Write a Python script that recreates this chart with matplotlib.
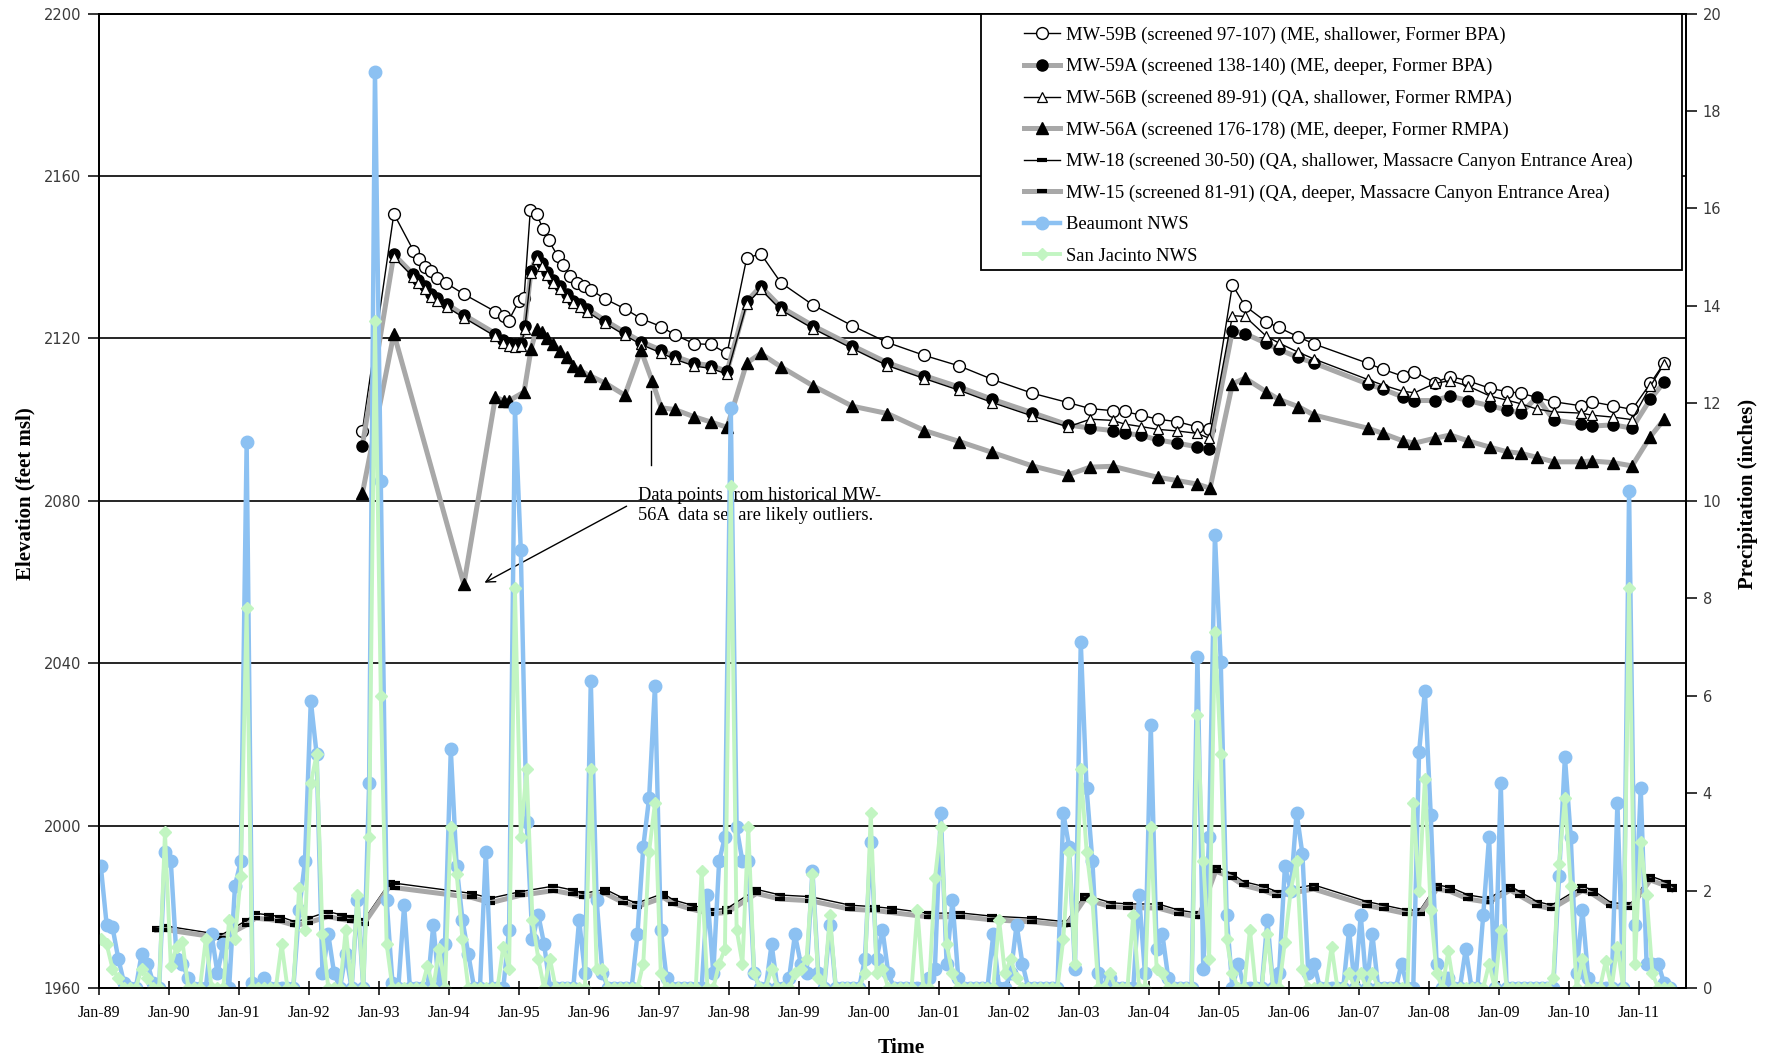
import numpy as np
import matplotlib
matplotlib.use("Agg")
import matplotlib.pyplot as plt
from matplotlib.patches import Rectangle

# date axis starts ~22 Jan 1989, yearly ticks fall on that day
AXIS_START = 1989.0575
AXIS_END = 2011.73
year_labels = ["Jan-%02d" % (y % 100) for y in range(1989, 2012)]

# monthly precipitation (inches), first value is Feb-89
beaumont = [
    2.5, 1.3, 1.25, 0.6, 0.1, 0, 0, 0.7, 0.5, 0.1, 0, 2.8,
    2.6, 0.6, 0.5, 0.2, 0, 0, 0, 1.1, 0.3, 0.9, 0, 2.1,
    2.6, 11.2, 0.1, 0, 0.2, 0, 0, 0, 0, 0, 1.6, 2.6,
    5.9, 4.8, 0.3, 1.1, 0.3, 0, 0.7, 0, 1.8, 0, 4.2, 18.8,
    10.4, 1.8, 0.1, 0, 1.7, 0, 0, 0, 0, 1.3, 0, 0.9,
    4.9, 2.5, 1.4, 0.7, 0, 0, 2.8, 0, 0, 0, 1.2, 11.9,
    9.0, 3.4, 1.0, 1.5, 0.9, 0, 0, 0, 0, 0, 1.4, 0.3,
    6.3, 1.8, 0.3, 0, 0, 0, 0, 0, 1.1, 2.9, 3.9, 6.2,
    1.2, 0.2, 0, 0, 0, 0, 0, 0, 1.9, 0.3, 2.6, 3.1,
    11.9, 3.3, 2.6, 2.6, 0.3, 0, 0, 0.9, 0, 0, 0.2, 1.1,
    0.5, 0.3, 2.4, 0.3, 0, 1.3, 0, 0, 0, 0, 0, 0.6,
    3.0, 0.6, 1.2, 0.3, 0, 0, 0, 0, 0, 0, 0.2, 0.4,
    3.6, 0.5, 1.8, 0.2, 0, 0, 0, 0, 0, 1.1, 0, 0,
    0.3, 1.3, 0.5, 0, 0, 0, 0, 0, 0, 3.6, 2.9, 0.4,
    7.1, 4.1, 2.6, 0.3, 0, 0.2, 0, 0, 0, 0, 1.9, 0.3,
    5.4, 0.8, 1.1, 0.2, 0, 0, 0, 0, 6.8, 0.4, 3.1, 9.3,
    6.7, 1.5, 0, 0.5, 0, 0, 0, 0, 1.4, 0, 0.3, 2.5,
    2.0, 3.6, 2.75, 0.3, 0.5, 0, 0, 0, 0, 0, 1.2, 0,
    1.5, 0, 1.1, 0, 0, 0, 0, 0.5, 0, 0, 4.85, 6.1,
    3.55, 0.5, 0, 0.2, 0, 0, 0.8, 0, 0, 1.5, 3.1, 0,
    4.2, 0, 0, 0, 0, 0, 0, 0, 0, 0, 2.3, 4.75,
    3.1, 0.3, 1.6, 0.2, 0, 0, 0, 0, 3.8, 0, 10.2, 1.3,
    4.1, 0.5, 0.5, 0.5, 0.1, 0,
]
san_jacinto = [
    1.0, 0.9, 0.4, 0.2, 0, 0, 0, 0.4, 0.2, 0, 0, 3.2,
    0.45, 0.85, 0.95, 0, 0, 0, 1.0, 0, 0, 0, 1.4, 1.0,
    2.3, 7.8, 0, 0, 0, 0, 0, 0.9, 0, 0, 2.05, 1.2,
    4.2, 4.8, 1.1, 0, 0, 0, 1.2, 0, 1.9, 0, 3.1, 13.7,
    6.0, 0.9, 0, 0, 0, 0, 0, 0, 0.45, 0, 0.8, 0,
    3.3, 2.35, 1.0, 0, 0, 0, 0, 0, 0, 0.85, 0.4, 8.2,
    3.1, 4.5, 1.4, 0.6, 0, 0.6, 0, 0, 0, 0, 0, 0,
    4.5, 0.4, 0.4, 0, 0, 0, 0, 0, 0, 0.5, 2.8, 3.8,
    0.3, 0, 0, 0, 0, 0, 0, 2.4, 0, 0, 0.5, 0.8,
    10.3, 1.2, 0.5, 3.3, 0.3, 0, 0, 0.4, 0, 0, 0, 0.3,
    0.4, 0.6, 2.35, 0.2, 0, 1.5, 0, 0, 0, 0, 0, 0.3,
    3.6, 0.3, 0.4, 0, 0, 0, 0, 0, 1.6, 0, 0, 2.25,
    3.3, 0.9, 0.3, 0, 0, 0, 0, 0, 0, 0, 1.4, 0.3,
    0.6, 0.2, 0, 0, 0, 0, 0, 0, 0, 1.0, 2.8, 0.5,
    4.5, 2.8, 1.8, 0, 0, 0.3, 0, 0, 0, 1.5, 0, 0,
    3.3, 0.4, 0.3, 0, 0, 0, 0, 0, 5.6, 2.6, 0.6, 7.3,
    4.8, 1.0, 0.3, 0, 0, 1.2, 0, 0, 1.1, 0, 0, 0.95,
    2.0, 2.6, 0.4, 0, 0, 0, 0, 0.85, 0, 0, 0.3, 0,
    0.3, 0, 0.3, 0, 0, 0, 0, 0, 0, 3.8, 2.0, 4.3,
    1.6, 0.3, 0, 0.75, 0, 0, 0, 0, 0, 0, 0.5, 0,
    1.2, 0, 0, 0, 0, 0, 0, 0, 0, 0.2, 2.55, 3.9,
    2.1, 0, 0.6, 0, 0, 0, 0.55, 0, 0.85, 0, 8.2, 0.5,
    3.0, 1.9, 0.3, 0, 0, 0,
]

# groundwater elevations (feet msl) by decimal year
mw59b_t = [1992.82, 1993.27, 1993.55, 1993.63, 1993.71, 1993.80, 1993.89, 1994.01,
           1994.27, 1994.72, 1994.84, 1994.91, 1995.06, 1995.13, 1995.22, 1995.31,
           1995.40, 1995.48, 1995.61, 1995.69, 1995.79, 1995.88, 1995.98, 1996.09,
           1996.29, 1996.57, 1996.80, 1997.09, 1997.28, 1997.56, 1997.80, 1998.03,
           1998.31, 1998.51, 1998.80, 1999.26, 1999.82, 2000.32, 2000.85, 2001.35,
           2001.82, 2002.39, 2002.90, 2003.22, 2003.54, 2003.71, 2003.94, 2004.18,
           2004.46, 2004.75, 2004.92, 2005.25, 2005.43, 2005.73, 2005.91, 2006.19,
           2006.42, 2007.18, 2007.40, 2007.68, 2007.85, 2008.14, 2008.36, 2008.61,
           2008.93, 2009.17, 2009.37, 2009.84, 2010.23, 2010.38, 2010.69, 2010.96,
           2011.22, 2011.42]
mw59b = [2097.2, 2150.7, 2141.6, 2139.6, 2137.6, 2136.5, 2135.0, 2133.7,
         2130.9, 2126.6, 2125.6, 2124.4, 2129.3, 2130.0, 2151.7, 2150.6,
         2147.0, 2144.2, 2140.3, 2138.1, 2135.4, 2133.7, 2132.8, 2131.9,
         2129.7, 2127.3, 2124.9, 2122.9, 2120.9, 2118.7, 2118.5, 2116.3,
         2139.7, 2140.9, 2133.7, 2128.2, 2123.1, 2119.0, 2115.8, 2113.2,
         2109.9, 2106.5, 2104.2, 2102.7, 2102.2, 2102.0, 2101.1, 2100.1,
         2099.5, 2098.2, 2097.6, 2133.2, 2128.0, 2124.1, 2122.7, 2120.4,
         2118.6, 2113.9, 2112.4, 2110.7, 2111.8, 2109.1, 2110.6, 2109.6,
         2107.7, 2106.9, 2106.5, 2104.4, 2103.4, 2104.4, 2103.4, 2102.5,
         2108.9, 2114.0]

mw59a_t = [1992.82, 1993.27, 1993.54, 1993.62, 1993.71, 1993.80, 1993.89, 1994.03,
           1994.27, 1994.72, 1994.83, 1994.91, 1995.00, 1995.09, 1995.14, 1995.23,
           1995.31, 1995.38, 1995.46, 1995.55, 1995.64, 1995.74, 1995.83, 1995.93,
           1996.03, 1996.29, 1996.57, 1996.80, 1997.09, 1997.28, 1997.56, 1997.80,
           1998.03, 1998.31, 1998.51, 1998.80, 1999.26, 1999.82, 2000.32, 2000.85,
           2001.35, 2001.82, 2002.39, 2002.90, 2003.22, 2003.54, 2003.71, 2003.94,
           2004.18, 2004.46, 2004.75, 2004.92, 2005.25, 2005.43, 2005.73, 2005.91,
           2006.19, 2006.42, 2007.18, 2007.40, 2007.68, 2007.85, 2008.14, 2008.36,
           2008.61, 2008.93, 2009.17, 2009.37, 2009.60, 2009.84, 2010.23, 2010.38,
           2010.69, 2010.96, 2011.22, 2011.42]
mw59a = [2093.6, 2140.7, 2135.9, 2134.4, 2132.8, 2131.0, 2130.0, 2128.4,
         2125.8, 2121.2, 2119.6, 2118.9, 2118.7, 2118.9, 2123.1, 2136.7,
         2140.3, 2138.5, 2136.3, 2134.4, 2132.8, 2131.0, 2129.3, 2128.4,
         2127.3, 2124.4, 2121.5, 2119.2, 2117.1, 2115.6, 2113.9, 2113.3,
         2111.9, 2129.1, 2132.8, 2127.7, 2123.1, 2118.2, 2114.0, 2110.8,
         2108.0, 2105.0, 2101.7, 2098.7, 2097.9, 2097.3, 2096.6, 2096.2,
         2095.0, 2094.2, 2093.3, 2092.7, 2121.9, 2121.2, 2118.8, 2117.3,
         2115.3, 2113.9, 2108.8, 2107.5, 2105.6, 2104.7, 2104.7, 2105.8,
         2104.7, 2103.4, 2102.4, 2101.6, 2105.5, 2099.9, 2098.9, 2098.4,
         2098.7, 2097.9, 2105.0, 2109.3]

# MW-56B was sampled on the same rounds as MW-59A, from 1993 on
mw56b_t = mw59a_t[1:]
mw56b = [2140.0, 2135.2, 2133.7, 2132.1, 2130.3, 2129.3, 2127.7, 2125.1,
         2120.5, 2118.9, 2118.2, 2118.0, 2118.2, 2122.4, 2136.0, 2139.6,
         2137.8, 2135.6, 2133.7, 2132.1, 2130.3, 2128.6, 2127.7, 2126.6,
         2123.7, 2120.8, 2118.5, 2116.4, 2114.9, 2113.2, 2112.6, 2111.2,
         2128.4, 2132.1, 2127.0, 2122.4, 2117.5, 2113.3, 2110.1,
         2107.2, 2104.2, 2100.9, 2098.2, 2100.1, 2099.8, 2098.9, 2098.3,
         2097.6, 2097.2, 2096.6, 2095.4, 2125.6, 2125.4, 2120.6, 2118.9,
         2116.6, 2114.9, 2109.9, 2108.5, 2107.0, 2106.6, 2108.9, 2109.6,
         2108.3, 2105.8, 2104.8, 2103.9, 2102.6, 2101.9, 2101.6, 2101.1,
         2100.6, 2100.0, 2108.2, 2113.8]

mw56a_t = [1992.82, 1993.27, 1994.27, 1994.72, 1994.84, 1994.91, 1995.13, 1995.23,
           1995.31, 1995.38, 1995.46, 1995.55, 1995.64, 1995.74, 1995.83, 1995.93,
           1996.07, 1996.29, 1996.57, 1996.80, 1996.96, 1997.09, 1997.28, 1997.56,
           1997.80, 1998.03, 1998.31, 1998.51, 1998.80, 1999.26, 1999.82, 2000.32,
           2000.85, 2001.35, 2001.82, 2002.39, 2002.90, 2003.22, 2003.54, 2004.18,
           2004.46, 2004.75, 2004.93, 2005.25, 2005.43, 2005.73, 2005.91, 2006.19,
           2006.42, 2007.18, 2007.40, 2007.68, 2007.85, 2008.14, 2008.36, 2008.61,
           2008.93, 2009.17, 2009.37, 2009.60, 2009.84, 2010.23, 2010.38, 2010.69,
           2010.96, 2011.22, 2011.42]
mw56a = [2081.8, 2121.2, 2059.4, 2105.5, 2104.7, 2104.6, 2106.8, 2117.4,
         2122.4, 2121.5, 2120.0, 2118.5, 2117.0, 2115.4, 2113.3, 2112.1,
         2110.8, 2109.0, 2106.0, 2117.1, 2109.5, 2102.9, 2102.5, 2100.7,
         2099.4, 2098.1, 2113.9, 2116.3, 2113.0, 2108.3, 2103.3, 2101.5,
         2097.3, 2094.6, 2091.9, 2088.6, 2086.4, 2088.3, 2088.5, 2085.8,
         2085.0, 2084.1, 2083.1, 2108.8, 2110.2, 2106.9, 2105.0, 2103.2,
         2101.1, 2097.9, 2096.6, 2094.8, 2094.2, 2095.4, 2096.2, 2094.8,
         2093.2, 2092.1, 2091.7, 2090.7, 2089.6, 2089.6, 2089.8, 2089.4,
         2088.6, 2095.8, 2100.1]

mw18_t = [1989.88, 1990.00, 1990.81, 1991.17, 1991.29, 1991.48, 1991.64, 1991.86,
          1992.05, 1992.33, 1992.53, 1992.67, 1992.84, 1993.22, 1993.29, 1994.38,
          1994.65, 1995.07, 1995.55, 1995.83, 1995.98, 1996.29, 1996.55, 1996.74,
          1997.12, 1997.26, 1997.53, 1997.79, 1998.03, 1998.45, 1998.79, 1999.22,
          1999.79, 2000.15, 2000.38, 2000.91, 2001.36, 2001.81, 2002.38, 2002.88,
          2003.14, 2003.52, 2003.76, 2004.19, 2004.48, 2004.77, 2005.01, 2005.24,
          2005.41, 2005.70, 2005.89, 2006.41, 2007.17, 2007.41, 2007.74, 2007.93,
          2008.17, 2008.36, 2008.62, 2008.91, 2009.22, 2009.36, 2009.60, 2009.81,
          2010.25, 2010.40, 2010.66, 2010.94, 2011.22, 2011.44, 2011.53]
mw18 = [1974.9, 1975.3, 1973.1, 1976.7, 1978.4, 1978.0, 1977.6, 1976.3,
        1977.2, 1978.8, 1978.0, 1977.6, 1976.7, 1986.2, 1985.8, 1983.3,
        1982.1, 1983.7, 1985.1, 1984.1, 1983.3, 1984.3, 1982.1, 1980.9,
        1983.3, 1981.7, 1980.4, 1979.2, 1979.6, 1984.3, 1982.9, 1982.5,
        1980.4, 1980.0, 1979.6, 1978.4, 1978.5, 1977.7, 1977.2, 1976.3,
        1982.9, 1981.0, 1980.7, 1980.7, 1979.2, 1978.4, 1989.9, 1988.2,
        1986.2, 1985.0, 1983.7, 1985.4, 1981.3, 1980.4, 1979.2, 1979.2,
        1985.4, 1984.8, 1982.9, 1982.1, 1985.1, 1983.7, 1981.3, 1980.4,
        1985.0, 1984.1, 1981.0, 1980.7, 1987.6, 1986.2, 1985.1]

# MW-15 measured on the same rounds as MW-18
mw15_t = mw18_t
mw15 = [1974.2, 1974.4, 1972.3, 1975.6, 1977.2, 1976.9, 1976.5, 1975.4,
        1976.1, 1977.6, 1976.9, 1976.5, 1975.8, 1985.3, 1984.7, 1982.3,
        1981.0, 1982.8, 1984.0, 1983.1, 1982.4, 1983.3, 1981.0, 1980.0,
        1982.3, 1980.8, 1979.4, 1978.3, 1978.6, 1983.3, 1981.9, 1981.5,
        1979.4, 1979.1, 1978.6, 1977.5, 1977.6, 1976.8, 1976.3, 1975.4,
        1981.9, 1980.0, 1979.8, 1979.7, 1978.3, 1977.5, 1988.8, 1987.2,
        1985.3, 1984.0, 1982.7, 1984.4, 1980.3, 1979.5, 1978.3, 1978.3,
        1984.4, 1983.8, 1981.9, 1981.1, 1984.1, 1982.7, 1980.3, 1979.5,
        1984.0, 1983.1, 1980.1, 1979.8, 1986.6, 1985.2, 1984.2]

labels = [
    "MW-59B (screened 97-107) (ME, shallower, Former BPA)",
    "MW-59A (screened 138-140) (ME, deeper, Former BPA)",
    "MW-56B (screened 89-91) (QA, shallower, Former RMPA)",
    "MW-56A (screened 176-178) (ME, deeper, Former RMPA)",
    "MW-18 (screened 30-50) (QA, shallower, Massacre Canyon Entrance Area)",
    "MW-15 (screened 81-91) (QA, deeper, Massacre Canyon Entrance Area)",
    "Beaumont NWS",
    "San Jacinto NWS",
]

SERIF = "Liberation Serif"
GRAY = "#a8a8a8"
BLUE = "#8cc1f2"
GREEN = "#c2f5c2"

W, H = 1777, 1060
fig = plt.figure(figsize=(W / 100, H / 100), dpi=100)
ax = fig.add_axes([99 / W, 1 - 988 / H, 1587 / W, 974.4 / H])
ax2 = ax.twinx()

ax.set_xlim(AXIS_START, AXIS_END)
ax.set_ylim(1960, 2200)
ax2.set_ylim(0, 20)

# groundwater wells
ax.plot(mw59b_t, mw59b, color="black", lw=1.0, marker="o", ms=8.5,
        mfc="white", mec="black", mew=1.0, label=labels[0], zorder=3)
ax.plot(mw59a_t, mw59a, color=GRAY, lw=3.6, marker="o", ms=8,
        mfc="black", mec="black", label=labels[1], zorder=3)
ax.plot(mw56b_t, mw56b, color="black", lw=1.0, marker="^", ms=6.5,
        mfc="white", mec="black", mew=0.9, label=labels[2], zorder=3)
ax.plot(mw56a_t, mw56a, color=GRAY, lw=3.6, marker="^", ms=8,
        mfc="black", mec="black", label=labels[3], zorder=3)
ax.plot(mw18_t, mw18, color="black", lw=1.0, marker="_", ms=7, mew=3,
        mec="black", label=labels[4], zorder=3)
ax.plot(mw15_t, mw15, color=GRAY, lw=3.6, marker="_", ms=7, mew=3,
        mec="black", label=labels[5], zorder=3)

# precipitation on the secondary axis
months = 1989 + (np.arange(len(beaumont)) + 1) / 12
ax2.plot(months, beaumont, color=BLUE, lw=3.2, marker="o", ms=9,
         mfc=BLUE, mec=BLUE, label=labels[6])
ax2.plot(months, san_jacinto, color=GREEN, lw=2.8, marker="D", ms=6,
         mfc=GREEN, mec=GREEN, label=labels[7])

# gridlines and axes
ax.set_yticks(np.arange(1960, 2201, 40))
ax.yaxis.grid(True, color="black", lw=1.2)
ax.set_axisbelow(True)
ax2.set_yticks(np.arange(0, 21, 2))
ax.set_xticks(AXIS_START + np.arange(len(year_labels)))
ax.set_xticklabels(year_labels, fontfamily=SERIF, fontsize=11.5)

tick_font = dict(family="DejaVu Sans", size=10.5)
for lab in ax.get_yticklabels():
    lab.set_fontproperties(tick_font)
    lab.set_color("#3a3a3a")
for lab in ax2.get_yticklabels():
    lab.set_fontproperties(tick_font)
    lab.set_color("#3a3a3a")

ax.tick_params(axis="x", direction="inout", length=10, width=1.1, pad=7)
ax.tick_params(axis="y", direction="out", length=8, width=1.1, pad=5)
ax2.tick_params(axis="y", direction="out", length=8, width=1.1, pad=4)
for a in (ax, ax2):
    for sp in a.spines.values():
        sp.set_color("black")
        sp.set_linewidth(1.3)

ax.set_ylabel("Elevation (feet msl)", fontfamily=SERIF, fontweight="bold", fontsize=15)
ax.yaxis.set_label_coords(-0.040, 0.507)
ax2.set_ylabel("Precipitation (inches)", fontfamily=SERIF, fontweight="bold", fontsize=15)
ax2.yaxis.set_label_coords(1.033, 0.507)
ax.set_xlabel("Time", fontfamily=SERIF, fontweight="bold", fontsize=15.5)
ax.xaxis.set_label_coords(0.5054, -0.051)

# outlier note for the MW-56A record
ax.text(1996.76, 2083.6, "Data points from historical MW-\n56A  data set are likely outliers.",
        fontfamily=SERIF, fontsize=13.3, va="top", ha="left", linespacing=1.2, zorder=4)
ax.annotate("", xy=(1994.53, 2059.5), xytext=(1996.63, 2079.0),
            arrowprops=dict(arrowstyle="->", color="black", lw=1.0, mutation_scale=16),
            zorder=4)
ax.plot([1996.95, 1996.95], [2088.8, 2107.0], color="black", lw=1.0, zorder=4)

# legend with a hand-placed frame
frame = Rectangle((981 / W, 1 - 270 / H), 701 / W, 256.4 / H, transform=fig.transFigure,
                  facecolor="white", edgecolor="black", lw=1.3, zorder=3)
fig.add_artist(frame)
h1, l1 = ax.get_legend_handles_labels()
h2, l2 = ax2.get_legend_handles_labels()
fig.legend(h1 + h2, l1 + l2, loc="upper left", bbox_to_anchor=(1024 / W, 1 - 26.5 / H),
           frameon=False, prop=dict(family=SERIF, size=13.4), borderpad=0,
           borderaxespad=0, labelspacing=0.77, handlelength=1.95, handletextpad=0.3)

fig.savefig("out.png", dpi=100)
